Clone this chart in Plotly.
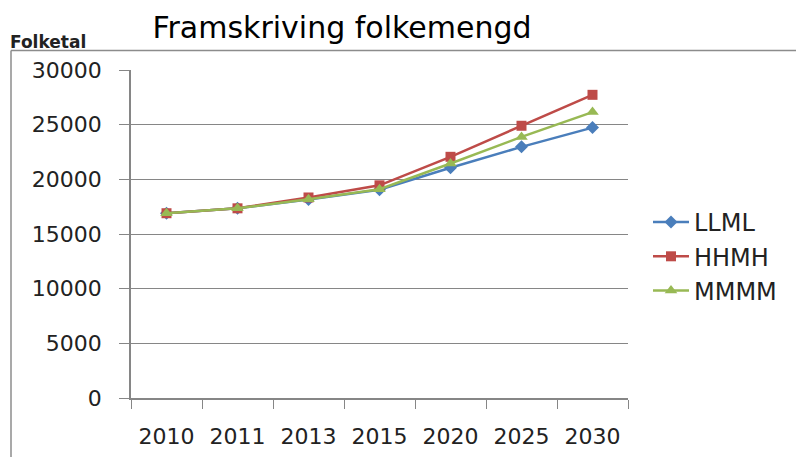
import plotly.graph_objects as go

years = ["2010", "2011", "2013", "2015", "2020", "2025", "2030"]
llml = [16900, 17350, 18150, 19050, 21060, 22970, 24730]
hhmh = [16900, 17350, 18340, 19450, 22060, 24900, 27730]
mmmm = [16900, 17350, 18180, 19100, 21450, 23880, 26150]
y_ticks = [0, 5000, 10000, 15000, 20000, 25000, 30000]
y_tick_labels = ["0", "5000", "10000", "15000", "20000", "25000", "30000"]

FONT = "DejaVu Sans"
OFF = 8  # page body margin
FW, FH = 804 - OFF, 457 - OFF

fig = go.Figure()
series = [
    ("LLML", llml, "#4A7EBB", "diamond", 10),
    ("HHMH", hhmh, "#BE4B48", "square", 10),
    ("MMMM", mmmm, "#98B954", "triangle-up", 11),
]
for name, vals, color, sym, sz in series:
    fig.add_trace(go.Scatter(
        x=years, y=vals, name=name, mode="lines+markers",
        line=dict(color=color, width=2.5),
        marker=dict(symbol=sym, size=sz, color=color),
    ))

# plot area in page pixels: x 131..628, y 70..398
L, R, T, B = 131, 628, 70, 398
W, H = R - L, B - T
def px(x):
    return (x - L) / W
def py(y):
    return (B - y) / H

fig.update_layout(
    width=FW, height=FH,
    margin=dict(l=L - OFF, r=804 - R, t=T - OFF, b=457 - B),
    paper_bgcolor="white", plot_bgcolor="white",
    font=dict(family=FONT, color="#000000"),
    title=dict(text="Framskriving folkemengd", x=px(342), xref="paper", xanchor="center",
               y=1 - (27 - OFF) / FH, yanchor="middle", font=dict(size=30, family=FONT, color="#000")),
    xaxis=dict(
        type="category", showgrid=False, showline=True, linecolor="#868686", linewidth=1.5,
        ticks="outside", tickson="boundaries", ticklen=9, tickcolor="#868686",
        tickfont=dict(size=22, family=FONT, color="#222"), ticklabelstandoff=18,
        range=[-0.5, 6.5], automargin=False,
    ),
    yaxis=dict(
        range=[0, 30000], tickvals=y_ticks, ticktext=y_tick_labels,
        showgrid=True, gridcolor="#868686", gridwidth=1.2,
        showline=True, linecolor="#868686", linewidth=1.5, zeroline=False,
        ticks="outside", ticklen=10, tickcolor="#868686",
        tickfont=dict(size=22, family=FONT, color="#222"), ticklabelstandoff=13,
        automargin=False,
    ),
    legend=dict(x=px(648), y=py(200), xanchor="left", yanchor="top",
                font=dict(size=24, family=FONT, color="#222"),
                bgcolor="rgba(0,0,0,0)", itemwidth=36),
    showlegend=True,
)

fig.add_annotation(text="<b>Folketal</b>", xref="paper", yref="paper",
                   x=px(8), y=py(42), xanchor="left", yanchor="middle",
                   showarrow=False, font=dict(size=17, family=FONT, color="#222"))
# chart border fragments
fig.add_shape(type="line", xref="paper", yref="paper",
              x0=px(11), x1=px(810), y0=py(50.5), y1=py(50.5),
              line=dict(color="#8c8c8c", width=1.5))
fig.add_shape(type="line", xref="paper", yref="paper",
              x0=px(11), x1=px(11), y0=py(50.5), y1=py(460),
              line=dict(color="#8c8c8c", width=1.5))

fig.write_html("out.html")
